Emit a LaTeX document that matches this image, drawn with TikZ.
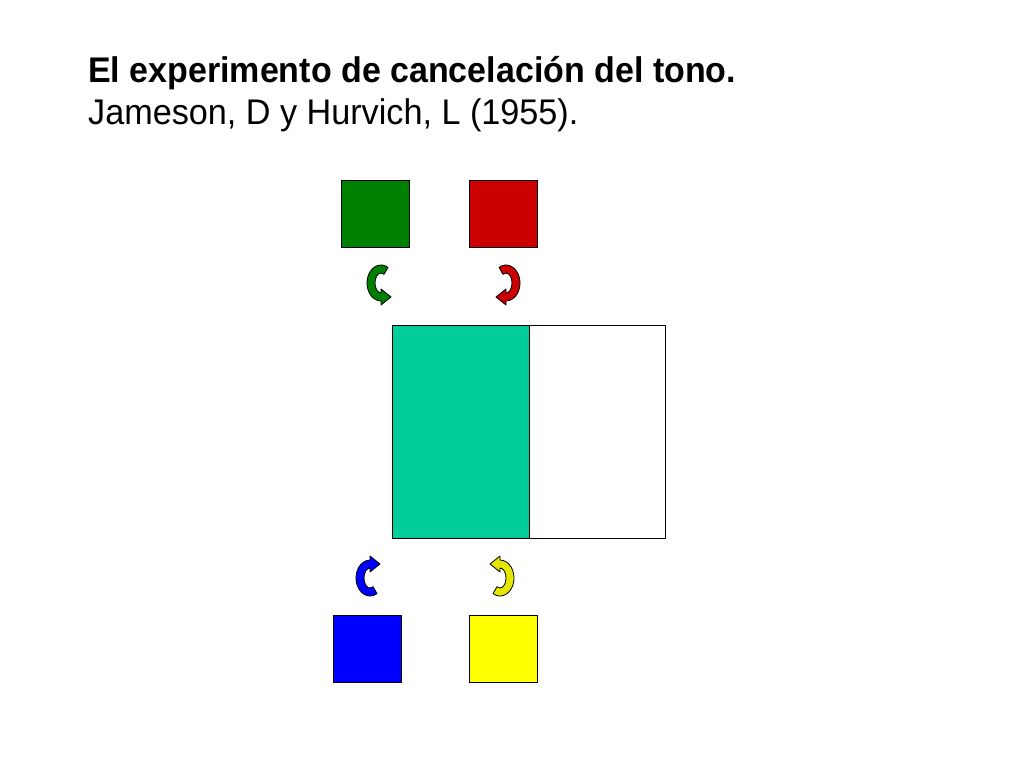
\documentclass[tikz,border=0pt]{standalone}
\usepackage{fontspec}
\setmainfont{Liberation Sans}
\definecolor{cgreen}{RGB}{0,128,0}
\definecolor{cred}{RGB}{204,0,0}
\definecolor{cblue}{RGB}{0,0,255}
\definecolor{cyellow}{RGB}{255,255,0}
\definecolor{cteal}{RGB}{0,204,153}
\definecolor{ayellow}{RGB}{230,230,0}
\tikzset{
  sq/.style={draw=black, line width=1pt, minimum width=68pt, minimum height=67pt, inner sep=0pt, outer sep=0pt},
  ttl/.style={anchor=base west, inner sep=0pt, font=\fontsize{33}{36}\selectfont},
  pics/carrow/.style={code={
    \draw[black, line width=0.8pt, fill=#1, line join=round]
      (60:14 and 18) arc[start angle=60, end angle=270, x radius=14, y radius=18]
      -- (0,-22) -- (10,-14) -- (0,-6)
      -- (0,-10) arc[start angle=270, end angle=60, x radius=6, y radius=10] -- cycle;
  }}
}
\begin{document}
\begin{tikzpicture}[x=1pt,y=1pt]
\useasboundingbox (0,0) rectangle (1024,-768);
\fill[white] (0,0) rectangle (1024,-768);
\node[ttl] (t1) at (88,-82) {\scalebox{1.03}[1.08]{\textbf{El experimento de cancelación del tono.}}};
\node[ttl] (t2) at (88,-124) {\scalebox{1.036}[1.08]{Jameson, D y Hurvich, L (1955).}};
\node[sq, fill=cgreen, anchor=north west] (g) at (341,-180) {};
\node[sq, fill=cred, anchor=north west] (r) at (469,-180) {};
\node[draw=black, line width=1pt, fill=cteal, minimum width=137pt, minimum height=213pt, inner sep=0pt, anchor=north west] (teal) at (392,-325) {};
\node[draw=black, line width=1pt, fill=white, minimum width=136pt, minimum height=213pt, inner sep=0pt, anchor=north west] (wh) at (529,-325) {};
\node[sq, fill=cblue, anchor=north west] (b) at (333,-615) {};
\node[sq, fill=cyellow, anchor=north west] (y) at (469,-615) {};
\pic at (381,-283) {carrow=cgreen};
\pic[xscale=-1] at (506,-283) {carrow=cred};
\pic[yscale=-1] at (370,-578) {carrow=cblue};
\pic[xscale=-1,yscale=-1] at (500,-578) {carrow=ayellow};
\end{tikzpicture}
\end{document}
